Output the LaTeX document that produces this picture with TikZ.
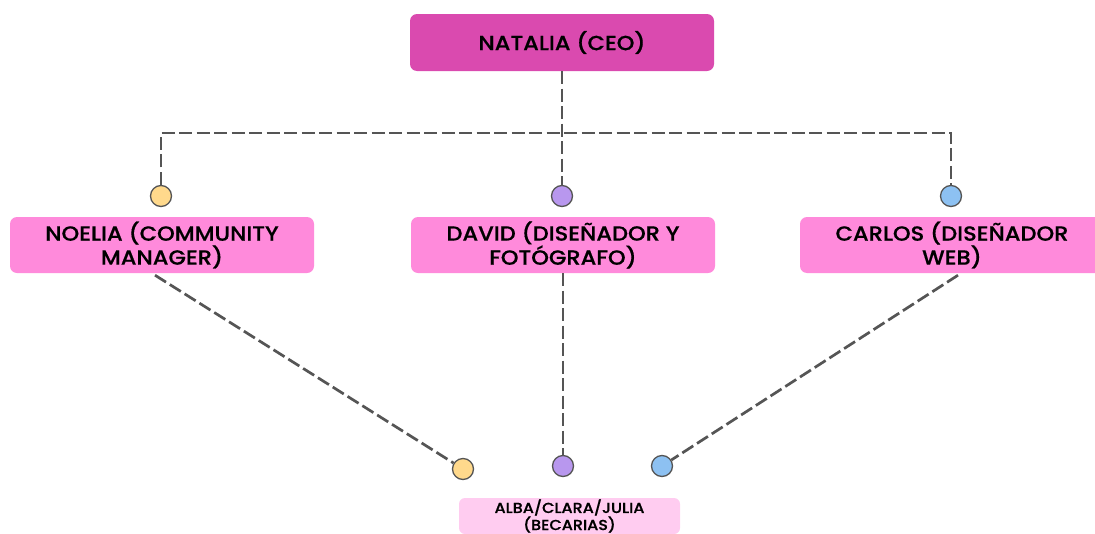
\documentclass[tikz,border=0pt]{standalone}
\usepackage{fontspec}
\setmainfont{Poppins Medium}[FakeStretch=1.1, FakeBold=0.6]
\usetikzlibrary{calc}
\definecolor{ceo}{HTML}{DA4AAF}
\definecolor{rowpink}{HTML}{FF8ADB}
\definecolor{becpink}{HTML}{FFCCF0}
\definecolor{dashgray}{HTML}{555555}
\definecolor{cyellow}{HTML}{FFD98C}
\definecolor{cpurple}{HTML}{B897EE}
\definecolor{cblue}{HTML}{8DC1F2}
\begin{document}
\begin{tikzpicture}[x=1pt,y=-1pt,
  box/.style={rounded corners=7pt, minimum width=304pt, minimum height=56pt, align=center, inner sep=0pt, font=\fontsize{20.5}{22.5}\selectfont},
  dot/.style={circle, draw=dashgray, line width=1.3pt, minimum size=21pt, inner sep=0pt},
  conn/.style={draw=dashgray, line width=2.7pt, dash pattern=on 13pt off 4.5pt}]
\useasboundingbox (0,0) rectangle (1095,533);
\clip (0,0) rectangle (1095,533);
% boxes
\node[box, fill=ceo, minimum height=57pt] (ceo) at (562,42.5) {NATALIA (CEO)};
\node[box, fill=rowpink] (noelia) at (162,245) {NOELIA (COMMUNITY\\MANAGER)};
\node[box, fill=rowpink] (david) at (563,245) {DAVID (DISEÑADOR Y\\FOTÓGRAFO)};
\node[box, fill=rowpink] (carlos) at (952,245) {CARLOS (DISEÑADOR\\WEB)};
\node[rounded corners=6pt, fill=becpink, minimum width=221pt, minimum height=36pt, align=center, inner sep=0pt, font=\fontsize{14.5}{14.5}\selectfont] (beca) at (569.5,516) {ALBA/CLARA/JULIA\\(BECARIAS)};
% dots
\node[dot, fill=cyellow] (c1) at (161,196) {};
\node[dot, fill=cpurple] (c2) at (562,196) {};
\node[dot, fill=cblue] (c3) at (951,196) {};
\node[dot, fill=cyellow] (b1) at (463,469) {};
\node[dot, fill=cpurple] (b2) at (563,466) {};
\node[dot, fill=cblue] (b3) at (662,466) {};
% connectors
\draw[conn] (ceo.south) -- (c2.north);
\draw[conn] (c1.north) -- ++(0,-52) -| (c3.north);
\draw[conn] ($(noelia.south)+(-7,2)$) -- (b1);
\draw[conn] (david.south) -- (b2.north);
\draw[conn] ($(carlos.south)+(6,2)$) -- (b3);
\end{tikzpicture}
\end{document}
